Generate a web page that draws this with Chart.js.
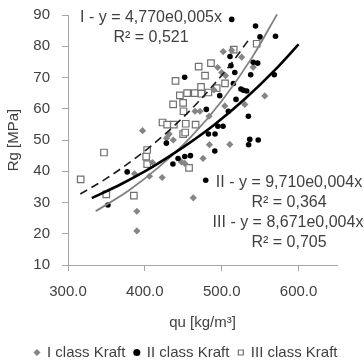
<!DOCTYPE html>
<html><head><meta charset="utf-8">
<script src="https://cdn.jsdelivr.net/npm/chart.js@4/dist/chart.umd.min.js"></script>
<style>html,body{margin:0;padding:0;background:#fff}#wrap{width:364px;height:363px}</style>
</head><body><div id="wrap"><canvas id="c" width="364" height="363"></canvas></div>
<script>
// ---- data ----
const seriesNames = ['I class Kraft', 'II class Kraft', 'III class Kraft'];
const xTicks = [300, 400, 500, 600];
const yTicks = [10, 20, 30, 40, 50, 60, 70, 80, 90];

const classI_x = [389.6,389.6,386.6,406,422.5,410,397,431.6,428.2,437,447.6,451.9,463,475.7,484,510.5,465.3,471.8,483.5,504,530,556,490,494.8,500,505,502,513,526,541];
const classI_y = [20.9,27.2,39.2,38.4,38,42.8,53,51.9,50.6,50,43,42.5,31.5,44.1,48.5,48.6,59.2,59.2,57.6,60.9,61.4,64.1,66,73.2,71.6,70.6,78.3,78.7,76.5,73.3];

const classII_x = [352,377,428,436.5,443.2,451.9,459.3,479.2,491,482.7,491.3,495,501.7,480,497.4,508.7,518.6,534.7,515.2,525,528.2,532.5,512,517,537.7,568.4,541,546.8,510.8,451.8,513,544,549.8,570,536.5,547.5,535];
const classII_y = [29.2,39.8,49,42.3,44.1,44.7,45,37.1,46.5,51.9,51.9,54.4,54.4,59.8,64.2,59.2,63,57.6,68.1,66.3,65.9,65.7,73.8,71.6,70.9,70.9,74.9,74.6,76.7,70.1,88.6,86.5,83,83.2,50.2,50,48.5];

const classIII_x = [316.5,346.8,349.8,385.7,401.7,403,403,423,429,437.7,436.8,449.8,439.9,445.5,455,465,473.6,473.1,482.7,493.5,504.3,478.3,470,486,515.6,545.5,449.8,452.5,453.2,450.3,466,457.5];
const classIII_y = [37.4,46,32.6,32.2,44.7,46.8,42.3,55.6,54.9,54.9,61.4,61.9,68.9,64.3,65,65,64.8,67,65.2,66.6,68.1,70.6,73.5,74.6,78.9,80.8,51.9,52.4,55.2,59.2,54.9,41.1];

// trend lines, points
const trendI_x = [336,380,420,460,500,540,572];
const trendI_y = [27.2,34.0,41.7,51.0,62.5,76.6,90.2];
const trendII_x = [331,370,410,450,490,530,570,600];
const trendII_y = [31.4,36.0,41.4,47.7,54.8,63.1,72.6,80.6];
const trendIII_x = [316,350,390,430,470,510,537];
const trendIII_y = [32.7,37.7,44.6,52.7,62.3,73.7,82.7];

const annotationTexts = ['I - y = 4,770e0,005x', 'R² = 0,521', 'II - y = 9,710e0,004x', 'R² = 0,364', 'III - y = 8,671e0,004x', 'R² = 0,705'];
const xTitle = 'qu [kg/m³]';
const yTitle = 'Rg [MPa]';

// ---- build ----
const pts = (xs, ys) => xs.map((x, i) => ({x, y: ys[i]}));
const FONT = '"Liberation Sans", Arial, sans-serif';
const TXT = '#404040';

const annotPos = [[151,18],[151,38],[289,183],[289,203],[288,223],[289,243]];
const annotPlugin = {
  id: 'annot',
  afterDatasetsDraw(chart) {
    const ctx = chart.ctx;
    ctx.save();
    ctx.font = '16px ' + FONT;
    ctx.fillStyle = TXT;
    ctx.textAlign = 'center';
    ctx.textBaseline = 'middle';
    annotationTexts.forEach((t, i) => ctx.fillText(t, annotPos[i][0], annotPos[i][1]));
    ctx.restore();
  }
};

new Chart(document.getElementById('c'), {
  type: 'scatter',
  data: {
    datasets: [
      {label: seriesNames[0], data: pts(classI_x, classI_y), pointStyle: 'rectRot', pointRadius: 3.6, backgroundColor: '#858585', borderColor: '#858585', borderWidth: 0, order: 3},
      {label: seriesNames[1], data: pts(classII_x, classII_y), pointStyle: 'circle', pointRadius: 2.8, backgroundColor: '#000', borderColor: '#000', borderWidth: 0, order: 2},
      {label: seriesNames[2], data: pts(classIII_x, classIII_y), pointStyle: 'rect', pointRadius: 4.6, backgroundColor: '#fff', borderColor: '#707070', borderWidth: 1.2, order: 4},
      {label: 'trendI', data: pts(trendI_x, trendI_y), showLine: true, pointRadius: 0, borderColor: '#808080', borderWidth: 1.8, cubicInterpolationMode: 'monotone', clip: false, order: 1},
      {label: 'trendII', data: pts(trendII_x, trendII_y), showLine: true, pointRadius: 0, borderColor: '#000', borderWidth: 2.6, cubicInterpolationMode: 'monotone', order: 0},
      {label: 'trendIII', data: pts(trendIII_x, trendIII_y), showLine: true, pointRadius: 0, borderColor: '#1a1a1a', borderWidth: 1.6, borderDash: [8, 5], cubicInterpolationMode: 'monotone', order: 1}
    ]
  },
  options: {
    responsive: false,
    animation: false,
    layout: {padding: {left: 8, right: 0, top: 0, bottom: -7}},
    plugins: {
      tooltip: {enabled: false},
      legend: {
        position: 'bottom',
        labels: {
          filter: (item) => item.datasetIndex < 3,
          sort: (a, b) => a.datasetIndex - b.datasetIndex,
          usePointStyle: true, boxWidth: 5, boxHeight: 5, padding: 9,
          color: TXT, font: {family: FONT, size: 15}
        }
      }
    },
    scales: {
      x: {
        type: 'linear', min: 300, max: 650,
        afterBuildTicks: (s) => { s.ticks = xTicks.map(v => ({value: v})); },
        ticks: {color: TXT, font: {family: FONT, size: 15}, padding: 12, callback: (v) => Number(v).toFixed(1), maxRotation: 0},
        grid: {display: true, drawOnChartArea: false, drawTicks: true, tickLength: 6, color: '#a6a6a6'},
        border: {display: true, color: '#a6a6a6', width: 1},
        title: {display: true, text: xTitle, color: TXT, font: {family: FONT, size: 15}, padding: {top: 1, bottom: 4}},
        afterFit: (s) => { s.paddingRight = 27; s.paddingLeft = 0; }
      },
      y: {
        type: 'linear', min: 10, max: 90,
        afterBuildTicks: (s) => { s.ticks = yTicks.map(v => ({value: v})); },
        ticks: {color: TXT, font: {family: FONT, size: 15}, padding: 12},
        grid: {display: true, drawOnChartArea: false, drawTicks: true, tickLength: 6, color: '#a6a6a6'},
        border: {display: true, color: '#a6a6a6', width: 1},
        title: {display: true, text: yTitle, color: TXT, font: {family: FONT, size: 15}, padding: {top: -3, bottom: 0}},
        afterFit: (s) => { s.width = 60; s.paddingTop = 15; s.paddingBottom = 0; }
      }
    }
  },
  plugins: [annotPlugin]
});
</script>
</body></html>
